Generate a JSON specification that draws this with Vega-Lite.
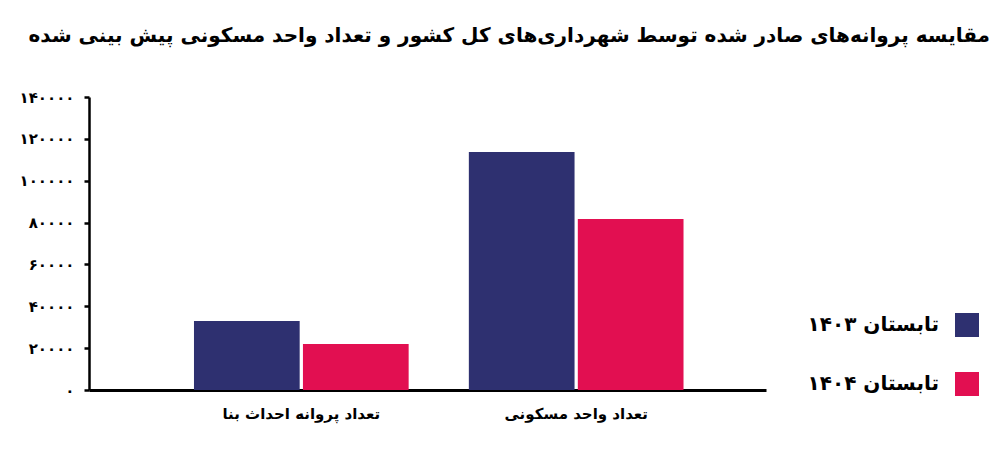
{
  "$schema": "https://vega.github.io/schema/vega-lite/v6.json",
  "width": 677,
  "height": 293,
  "autosize": "none",
  "padding": {"left": 89, "top": 97, "right": 242, "bottom": 68},
  "background": "white",
  "title": {
    "text": "مقایسه پروانه‌های صادر شده توسط شهرداری‌های کل کشور و تعداد واحد مسکونی پیش بینی شده",
    "anchor": "end",
    "frame": "group",
    "dx": 224,
    "offset": 44,
    "font": "DejaVu Sans",
    "fontSize": 20,
    "fontWeight": "bold",
    "color": "black"
  },
  "data": {
    "values": [
      {"group": "تعداد پروانه احداث بنا", "season": "تابستان ۱۴۰۳", "value": 33000},
      {"group": "تعداد پروانه احداث بنا", "season": "تابستان ۱۴۰۴", "value": 22000},
      {"group": "تعداد واحد مسکونی", "season": "تابستان ۱۴۰۳", "value": 113700},
      {"group": "تعداد واحد مسکونی", "season": "تابستان ۱۴۰۴", "value": 81700}
    ]
  },
  "mark": {"type": "bar"},
  "encoding": {
    "x": {
      "field": "group",
      "type": "nominal",
      "title": null,
      "sort": ["تعداد پروانه احداث بنا", "تعداد واحد مسکونی"],
      "scale": {"paddingInner": 0.219, "paddingOuter": 0.341, "align": 0.56},
      "axis": {
        "labelAngle": 0,
        "ticks": false,
        "domainColor": "black",
        "domainWidth": 3,
        "labelFont": "DejaVu Sans",
        "labelFontSize": 15,
        "labelFontWeight": "bold",
        "labelColor": "black",
        "labelPadding": 16
      }
    },
    "xOffset": {
      "field": "season",
      "type": "nominal",
      "sort": ["تابستان ۱۴۰۳", "تابستان ۱۴۰۴"],
      "scale": {"paddingInner": 0.03}
    },
    "y": {
      "field": "value",
      "type": "quantitative",
      "title": null,
      "scale": {"domain": [0, 140000]},
      "axis": {
        "values": [0, 20000, 40000, 60000, 80000, 100000, 120000, 140000],
        "format": "d",
        "labelExpr": "replace(replace(replace(replace(replace(replace(replace(replace(replace(replace(datum.label,/0/g,'۰'),/1/g,'۱'),/2/g,'۲'),/3/g,'۳'),/4/g,'۴'),/5/g,'۵'),/6/g,'۶'),/7/g,'۷'),/8/g,'۸'),/9/g,'۹')",
        "grid": false,
        "domainColor": "black",
        "domainWidth": 2.5,
        "tickColor": "black",
        "tickWidth": 2.5,
        "tickSize": 5,
        "labelFont": "DejaVu Sans",
        "labelFontSize": 15,
        "labelFontWeight": "bold",
        "labelColor": "black",
        "labelPadding": 10
      }
    },
    "color": {
      "field": "season",
      "type": "nominal",
      "title": null,
      "scale": {
        "domain": ["تابستان ۱۴۰۳", "تابستان ۱۴۰۴"],
        "range": ["#2e3070", "#e20f51"]
      },
      "legend": {
        "orient": "none",
        "legendX": 866,
        "legendY": 216,
        "symbolType": "square",
        "symbolSize": 576,
        "symbolStrokeWidth": 0,
        "symbolOpacity": 1,
        "labelAlign": "right",
        "labelOffset": -40,
        "labelFont": "DejaVu Sans",
        "labelFontSize": 20,
        "labelFontWeight": "bold",
        "labelColor": "black",
        "labelLimit": 300,
        "rowPadding": 35,
        "padding": 0
      }
    }
  },
  "config": {"view": {"stroke": null}}
}
